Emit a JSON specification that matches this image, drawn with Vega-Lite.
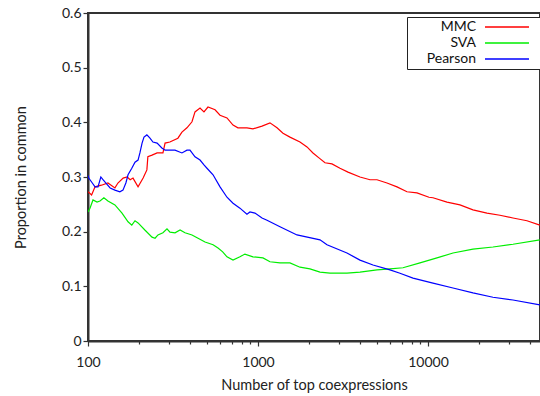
{
  "$schema": "https://vega.github.io/schema/vega-lite/v6.json",
  "width": 452,
  "height": 328,
  "autosize": {"type": "none"},
  "padding": {"left": 88, "top": 13, "right": 0, "bottom": 55},
  "background": "white",
  "config": {
    "font": "Lato",
    "view": {"stroke": "#333", "strokeWidth": 2},
    "axis": {
      "labelFont": "Lato", "labelFontSize": 14, "labelColor": "#222",
      "titleFont": "Lato", "titleFontSize": 14.5, "titleFontWeight": "normal", "titleColor": "#222",
      "domainColor": "#333", "domainWidth": 2, "tickColor": "#333", "tickWidth": 1.2,
      "grid": false, "labelFlush": false, "labelOverlap": false
    },
    "legend": {
      "orient": "none", "legendX": 319, "legendY": 4,
      "strokeColor": "#222", "strokeWidth": 1, "fillColor": "white", "padding": 3,
      "symbolType": "M0,0H7.333M8.333,0h0.001", "symbolSize": 144, "symbolStrokeWidth": 1.5,
      "symbolOffset": 68, "labelAlign": "right", "labelOffset": -16,
      "rowPadding": 2,
      "labelFont": "Lato", "labelFontSize": 14, "labelColor": "#111"
    }
  },
  "data": {"values": [
    {"s":"MMC","x":100,"y":0.273},{"s":"MMC","x":105,"y":0.267},{"s":"MMC","x":110,"y":0.282},{"s":"MMC","x":120,"y":0.285},
    {"s":"MMC","x":131,"y":0.289},{"s":"MMC","x":144,"y":0.280},{"s":"MMC","x":150,"y":0.289},{"s":"MMC","x":161,"y":0.298},
    {"s":"MMC","x":170,"y":0.300},{"s":"MMC","x":177,"y":0.295},{"s":"MMC","x":184,"y":0.298},{"s":"MMC","x":197,"y":0.282},
    {"s":"MMC","x":211,"y":0.298},{"s":"MMC","x":222,"y":0.313},{"s":"MMC","x":225,"y":0.337},{"s":"MMC","x":238,"y":0.340},
    {"s":"MMC","x":255,"y":0.344},{"s":"MMC","x":276,"y":0.344},{"s":"MMC","x":284,"y":0.362},{"s":"MMC","x":303,"y":0.364},
    {"s":"MMC","x":338,"y":0.371},{"s":"MMC","x":357,"y":0.382},{"s":"MMC","x":382,"y":0.390},{"s":"MMC","x":409,"y":0.401},
    {"s":"MMC","x":426,"y":0.419},{"s":"MMC","x":456,"y":0.426},{"s":"MMC","x":481,"y":0.419},{"s":"MMC","x":508,"y":0.428},
    {"s":"MMC","x":559,"y":0.423},{"s":"MMC","x":598,"y":0.413},{"s":"MMC","x":657,"y":0.408},{"s":"MMC","x":713,"y":0.395},
    {"s":"MMC","x":762,"y":0.390},{"s":"MMC","x":861,"y":0.390},{"s":"MMC","x":934,"y":0.388},{"s":"MMC","x":1056,"y":0.393},
    {"s":"MMC","x":1176,"y":0.399},{"s":"MMC","x":1294,"y":0.390},{"s":"MMC","x":1403,"y":0.380},{"s":"MMC","x":1542,"y":0.373},
    {"s":"MMC","x":1766,"y":0.364},{"s":"MMC","x":1942,"y":0.355},{"s":"MMC","x":2106,"y":0.344},{"s":"MMC","x":2284,"y":0.335},
    {"s":"MMC","x":2478,"y":0.326},{"s":"MMC","x":2724,"y":0.324},{"s":"MMC","x":3036,"y":0.316},{"s":"MMC","x":3384,"y":0.309},
    {"s":"MMC","x":3981,"y":0.300},{"s":"MMC","x":4559,"y":0.295},{"s":"MMC","x":5012,"y":0.295},{"s":"MMC","x":5739,"y":0.289},
    {"s":"MMC","x":6572,"y":0.282},{"s":"MMC","x":7525,"y":0.273},{"s":"MMC","x":8614,"y":0.271},{"s":"MMC","x":10136,"y":0.263},
    {"s":"MMC","x":10699,"y":0.262},{"s":"MMC","x":12937,"y":0.254},{"s":"MMC","x":15424,"y":0.249},{"s":"MMC","x":18393,"y":0.240},
    {"s":"MMC","x":22233,"y":0.234},{"s":"MMC","x":26508,"y":0.230},{"s":"MMC","x":31623,"y":0.225},{"s":"MMC","x":38224,"y":0.220},
    {"s":"MMC","x":45500,"y":0.212},
    {"s":"SVA","x":100,"y":0.236},{"s":"SVA","x":102.7,"y":0.243},{"s":"SVA","x":107,"y":0.258},{"s":"SVA","x":113,"y":0.254},
    {"s":"SVA","x":117.6,"y":0.256},{"s":"SVA","x":124,"y":0.262},{"s":"SVA","x":131,"y":0.256},{"s":"SVA","x":144,"y":0.249},
    {"s":"SVA","x":158.5,"y":0.234},{"s":"SVA","x":172,"y":0.218},{"s":"SVA","x":181,"y":0.212},{"s":"SVA","x":189,"y":0.220},
    {"s":"SVA","x":197,"y":0.216},{"s":"SVA","x":216,"y":0.203},{"s":"SVA","x":238,"y":0.190},{"s":"SVA","x":248,"y":0.188},
    {"s":"SVA","x":258,"y":0.194},{"s":"SVA","x":276,"y":0.198},{"s":"SVA","x":291.5,"y":0.205},{"s":"SVA","x":303.5,"y":0.199},
    {"s":"SVA","x":325,"y":0.198},{"s":"SVA","x":348,"y":0.203},{"s":"SVA","x":372,"y":0.198},{"s":"SVA","x":409,"y":0.194},
    {"s":"SVA","x":444,"y":0.188},{"s":"SVA","x":488,"y":0.181},{"s":"SVA","x":544,"y":0.176},{"s":"SVA","x":582,"y":0.170},
    {"s":"SVA","x":620,"y":0.163},{"s":"SVA","x":657,"y":0.154},{"s":"SVA","x":713,"y":0.148},{"s":"SVA","x":783,"y":0.154},
    {"s":"SVA","x":838,"y":0.159},{"s":"SVA","x":934,"y":0.154},{"s":"SVA","x":1070,"y":0.152},{"s":"SVA","x":1176,"y":0.145},
    {"s":"SVA","x":1347,"y":0.143},{"s":"SVA","x":1542,"y":0.143},{"s":"SVA","x":1766,"y":0.135},{"s":"SVA","x":2022,"y":0.132},
    {"s":"SVA","x":2316,"y":0.126},{"s":"SVA","x":2651,"y":0.124},{"s":"SVA","x":3337,"y":0.124},{"s":"SVA","x":3981,"y":0.126},
    {"s":"SVA","x":5012,"y":0.130},{"s":"SVA","x":5977,"y":0.132},{"s":"SVA","x":7129,"y":0.134},{"s":"SVA","x":8972,"y":0.143},
    {"s":"SVA","x":11295,"y":0.152},{"s":"SVA","x":14033,"y":0.161},{"s":"SVA","x":18393,"y":0.168},{"s":"SVA","x":24115,"y":0.172},
    {"s":"SVA","x":31623,"y":0.177},{"s":"SVA","x":45500,"y":0.185},
    {"s":"Pearson","x":100,"y":0.303},{"s":"Pearson","x":101,"y":0.298},{"s":"Pearson","x":106,"y":0.289},{"s":"Pearson","x":110,"y":0.282},
    {"s":"Pearson","x":114.5,"y":0.282},{"s":"Pearson","x":119,"y":0.300},{"s":"Pearson","x":122.5,"y":0.295},{"s":"Pearson","x":129,"y":0.287},
    {"s":"Pearson","x":135,"y":0.280},{"s":"Pearson","x":144,"y":0.276},{"s":"Pearson","x":154,"y":0.273},{"s":"Pearson","x":160.6,"y":0.276},
    {"s":"Pearson","x":167,"y":0.289},{"s":"Pearson","x":172,"y":0.304},{"s":"Pearson","x":181,"y":0.316},{"s":"Pearson","x":189,"y":0.327},
    {"s":"Pearson","x":197,"y":0.331},{"s":"Pearson","x":202,"y":0.344},{"s":"Pearson","x":208,"y":0.362},{"s":"Pearson","x":213.5,"y":0.373},
    {"s":"Pearson","x":222,"y":0.377},{"s":"Pearson","x":231.5,"y":0.371},{"s":"Pearson","x":241,"y":0.364},{"s":"Pearson","x":255,"y":0.362},
    {"s":"Pearson","x":272,"y":0.353},{"s":"Pearson","x":284,"y":0.349},{"s":"Pearson","x":303.5,"y":0.349},{"s":"Pearson","x":325,"y":0.349},
    {"s":"Pearson","x":357,"y":0.344},{"s":"Pearson","x":382,"y":0.349},{"s":"Pearson","x":398,"y":0.349},{"s":"Pearson","x":426,"y":0.337},
    {"s":"Pearson","x":456,"y":0.331},{"s":"Pearson","x":481,"y":0.322},{"s":"Pearson","x":501,"y":0.316},{"s":"Pearson","x":544,"y":0.304},
    {"s":"Pearson","x":598,"y":0.282},{"s":"Pearson","x":657,"y":0.263},{"s":"Pearson","x":713,"y":0.252},{"s":"Pearson","x":783,"y":0.243},
    {"s":"Pearson","x":861,"y":0.232},{"s":"Pearson","x":897,"y":0.236},{"s":"Pearson","x":960,"y":0.234},{"s":"Pearson","x":1056,"y":0.225},
    {"s":"Pearson","x":1130,"y":0.221},{"s":"Pearson","x":1347,"y":0.209},{"s":"Pearson","x":1696,"y":0.194},{"s":"Pearson","x":2316,"y":0.185},
    {"s":"Pearson","x":2546,"y":0.176},{"s":"Pearson","x":3337,"y":0.161},{"s":"Pearson","x":3981,"y":0.148},{"s":"Pearson","x":4748,"y":0.139},
    {"s":"Pearson","x":5977,"y":0.130},{"s":"Pearson","x":6844,"y":0.124},{"s":"Pearson","x":8164,"y":0.115},{"s":"Pearson","x":10699,"y":0.106},
    {"s":"Pearson","x":14033,"y":0.097},{"s":"Pearson","x":18393,"y":0.088},{"s":"Pearson","x":24115,"y":0.080},{"s":"Pearson","x":31623,"y":0.075},
    {"s":"Pearson","x":45500,"y":0.066}
  ]},
  "mark": {"type": "line", "strokeWidth": 1.2, "clip": true},
  "encoding": {
    "x": {
      "field": "x", "type": "quantitative",
      "scale": {"type": "log", "domain": [100, 45600], "nice": false},
      "axis": {
        "title": "Number of top coexpressions",
        "values": [100,200,300,400,500,600,700,800,900,1000,2000,3000,4000,5000,6000,7000,8000,9000,10000,20000,30000,40000],
        "format": "d",
        "labelExpr": "indexof([100,1000,10000], datum.value) >= 0 ? datum.label : ''",
        "tickSize": {"condition": {"test": "indexof([100,1000,10000], datum.value) >= 0", "value": 5}, "value": 3},
        "labelPadding": 9, "titlePadding": 9
      }
    },
    "y": {
      "field": "y", "type": "quantitative",
      "scale": {"domain": [0, 0.6], "nice": false},
      "axis": {
        "title": "Proportion in common",
        "values": [0, 0.1, 0.2, 0.3, 0.4, 0.5, 0.6],
        "format": ".1~f", "tickSize": 5, "labelPadding": 2, "titlePadding": 33
      }
    },
    "color": {
      "field": "s", "type": "nominal",
      "scale": {"domain": ["MMC", "SVA", "Pearson"], "range": ["#ff0000", "#00ee00", "#0000ff"]},
      "legend": {"title": null, "symbolStrokeColor": null}
    }
  }
}
